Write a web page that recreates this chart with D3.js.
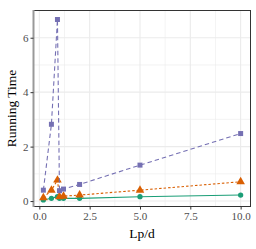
<!DOCTYPE html>
<html>
<head>
<meta charset="utf-8">
<script src="https://cdn.jsdelivr.net/npm/d3@7"></script>
<style>
body{margin:0;background:#fff;}
text{font-family:"Liberation Serif","DejaVu Serif",serif;}
</style>
</head>
<body>
<script>
// data
var lpd = [0.2, 0.6, 0.9, 1.0, 1.2, 2, 5, 10];
var timeGreen  = [0.04, 0.10, 0.16, 0.10, 0.10, 0.10, 0.16, 0.22];
var timeOrange = [0.12, 0.40, 0.77, 0.16, 0.18, 0.22, 0.40, 0.71];
var timePurple = [0.40, 2.82, 6.67, 0.38, 0.44, 0.61, 1.32, 2.48];
var xTicks = [0, 2.5, 5, 7.5, 10];
var yTicks = [0, 2, 4, 6];

var W=256,H=249;
var pL=33.5,pR=250.5,pT=10.5,pB=206.5;

var svg=d3.select("body").append("svg").attr("width",W).attr("height",H);

var x=d3.scaleLinear().domain([-0.29,10.49]).range([pL,pR]);
var y=d3.scaleLinear().domain([-0.2,7.0]).range([pB,pT]);

// grid
var xMinor=[1.25,3.75,6.25,8.75], yMinor=[1,3,5];
svg.selectAll(".gx").data(xMinor.concat(xTicks)).enter().append("line")
  .attr("x1",function(d){return x(d)}).attr("x2",function(d){return x(d)})
  .attr("y1",pT).attr("y2",pB)
  .attr("stroke","#ebebeb").attr("stroke-width",function(d,i){return i<4?0.6:1.1});
svg.selectAll(".gy").data(yMinor.concat(yTicks)).enter().append("line")
  .attr("y1",function(d){return y(d)}).attr("y2",function(d){return y(d)})
  .attr("x1",pL).attr("x2",pR)
  .attr("stroke","#ebebeb").attr("stroke-width",function(d,i){return i<3?0.6:1.1});

var series=[
  {vals:timeGreen, col:"#1B9E77", dash:null, shape:d3.symbolCircle, size:22},
  {vals:timeOrange,col:"#D95F02", dash:"2.5,2", shape:d3.symbolTriangle, size:32},
  {vals:timePurple,col:"#7570B3", dash:"4.5,3", shape:d3.symbolSquare, size:25}
];

var line=d3.line().x(function(d){return x(d[0])}).y(function(d){return y(d[1])});

series.forEach(function(s){
  var pts=lpd.map(function(v,i){return [v,s.vals[i]]});
  svg.append("path").datum(pts).attr("d",line)
    .attr("fill","none").attr("stroke",s.col).attr("stroke-width",1.1)
    .attr("stroke-dasharray",s.dash);
  svg.selectAll(null).data(pts).enter().append("path")
    .attr("d",d3.symbol().type(s.shape).size(s.size))
    .attr("transform",function(d){return "translate("+x(d[0])+","+y(d[1])+")"})
    .attr("fill",s.col);
});

// border
svg.append("rect").attr("x",pL).attr("y",pT).attr("width",pR-pL).attr("height",pB-pT)
  .attr("fill","none").attr("stroke","#333").attr("stroke-width",1);
svg.append("line").attr("x1",pL).attr("x2",pL).attr("y1",pT-0.5).attr("y2",pB+0.5)
  .attr("stroke","#999").attr("stroke-width",2);

// axes
var xa=svg.append("g").attr("transform","translate(0,"+pB+")")
  .call(d3.axisBottom(x).tickValues(xTicks).tickFormat(d3.format(".1f")).tickSize(3));
var ya=svg.append("g").attr("transform","translate("+pL+",0)")
  .call(d3.axisLeft(y).tickValues(yTicks).tickFormat(d3.format("d")).tickSize(3));
[xa,ya].forEach(function(a){
  a.select(".domain").remove();
  a.selectAll(".tick line").attr("stroke","#333");
  a.selectAll(".tick text").attr("fill","#4d4d4d").style("font-size","11px")
    .style("font-family","'Liberation Serif',serif");
});
xa.selectAll(".tick text").attr("dy","0.75em").attr("y",5);
ya.selectAll(".tick text").attr("x",-5);

svg.append("text").attr("x",(pL+pR)/2).attr("y",238).attr("text-anchor","middle")
  .style("font-size","13.5px").text("Lp/d");
svg.append("text").attr("transform","translate(16,"+((pT+pB)/2)+") rotate(-90)")
  .attr("text-anchor","middle").style("font-size","13.5px").text("Running Time");
</script>
</body>
</html>
